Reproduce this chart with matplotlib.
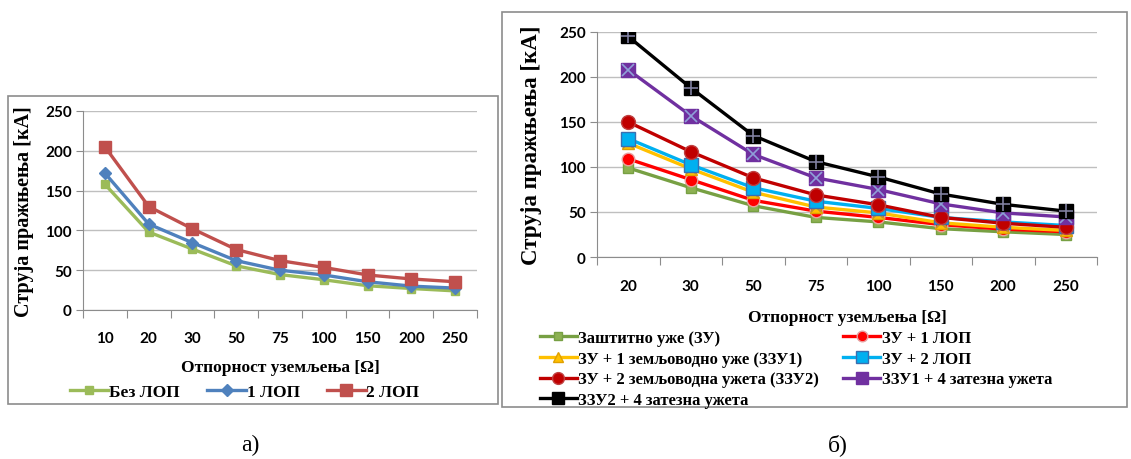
import matplotlib
matplotlib.use("Agg")
import matplotlib.pyplot as plt
from matplotlib.patches import Rectangle

W, H = 1131, 460

# ---- data: panel a) ----
cats_a = ["10", "20", "30", "50", "75", "100", "150", "200", "250"]
bez_lop = [158, 98, 76.5, 55.5, 44.5, 38, 30.5, 27, 24]
lop_1 = [172, 108, 84.5, 62, 50, 44, 35.5, 30, 27.5]
lop_2 = [205, 130, 102, 76, 62, 53.5, 44, 39, 35.5]

# ---- data: panel б) ----
cats_b = ["20", "30", "50", "75", "100", "150", "200", "250"]
zu = [99, 77, 57, 44, 39, 31.5, 28, 25]
zu_1lop = [109, 86, 63, 51, 44, 36, 31, 28]
zu_zzu1 = [126.5, 98, 72, 55.5, 49, 38, 33, 29.5]
zu_2lop = [131.5, 102.5, 77, 62, 54, 44, 39, 35]
zu_zzu2 = [150, 117, 88, 69, 58, 44, 37.5, 33]
zzu1_4 = [208, 157, 114, 88, 75, 59, 49, 44.5]
zzu2_4 = [245, 188, 135, 106, 89, 70, 58.5, 51]

names_a = ["Без ЛОП", "1 ЛОП", "2 ЛОП"]
names_b = ["Заштитно уже (ЗУ)", "ЗУ + 1 ЛОП",
           "ЗУ + 1 земљоводно уже (ЗЗУ1)", "ЗУ + 2 ЛОП",
           "ЗУ + 2 земљоводна ужета (ЗЗУ2)", "ЗЗУ1 + 4 затезна ужета",
           "ЗЗУ2 + 4 затезна ужета"]

xlabel = "Отпорност уземљења [Ω]"
ylabel = "Струја пражњења [кА]"

TICK_FONT = "Lato"
SERIF = "Liberation Serif"
GRID = "#BFBFBF"
AXC = "#8C8C8C"

fig = plt.figure(figsize=(W / 100, H / 100), dpi=100)


def px_axes(x0, y0, x1, y1):
    return fig.add_axes([x0 / W, 1 - y1 / H, (x1 - x0) / W, (y1 - y0) / H])


def style_axes(ax, cats, labelpad_pts):
    n = len(cats)
    ax.set_xlim(-0.5, n - 0.5)
    ax.set_ylim(0, 250)
    ax.set_yticks(range(0, 251, 50))
    ax.set_xticks([i - 0.5 for i in range(n + 1)])
    ax.set_xticklabels([])
    ax.set_xticks(range(n), minor=True)
    ax.set_xticklabels(cats, minor=True)
    ax.tick_params(axis="x", which="major", length=6, color=AXC, direction="out")
    ax.tick_params(axis="x", which="minor", length=0, pad=labelpad_pts)
    ax.tick_params(axis="y", length=5, color=AXC, pad=3)
    for lab in ax.get_xticklabels(minor=True) + ax.get_yticklabels():
        lab.set_fontfamily(TICK_FONT)
        lab.set_fontweight("bold")
        lab.set_fontsize(11)
    ax.grid(axis="y", color=GRID, linewidth=1)
    ax.set_axisbelow(True)
    for s in ["top", "right"]:
        ax.spines[s].set_visible(False)
    ax.spines["left"].set_color(AXC)
    ax.spines["bottom"].set_color(AXC)
    ax.set_facecolor("none")


# frames around each panel
fig.patches.append(Rectangle((8 / W, 1 - 405 / H), 490 / W, 308 / H,
                             transform=fig.transFigure, fill=False,
                             edgecolor="#8C8C8C", linewidth=1.2))
fig.patches.append(Rectangle((502 / W, 1 - 408 / H), 625 / W, 395 / H,
                             transform=fig.transFigure, fill=False,
                             edgecolor="#8C8C8C", linewidth=1.2))

# ---------- panel a) ----------
axa = px_axes(83, 112, 477, 311)
style_axes(axa, cats_a, 15)
xa = range(len(cats_a))
h1, = axa.plot(xa, bez_lop, color="#9BBB59", lw=2.4, marker="s", ms=6,
               mfc="#9BBB59", mec="#9BBB59", label=names_a[0])
h2, = axa.plot(xa, lop_1, color="#4F81BD", lw=2.4, marker="D", ms=6,
               mfc="#4F81BD", mec="#4F81BD", label=names_a[1])
h3, = axa.plot(xa, lop_2, color="#C0504D", lw=2.4, marker="s", ms=9,
               mfc="#C0504D", mec="#C0504D", label=names_a[2])
axa.set_xlabel(xlabel, fontfamily=SERIF, fontweight="bold", fontsize=12.5,
               labelpad=10)
axa.set_ylabel(ylabel, fontfamily=SERIF, fontweight="bold", fontsize=14.5,
               labelpad=8)
fig.legend(handles=[h1, h2, h3], loc="center left",
           bbox_to_anchor=(70 / W, 1 - 393 / H), ncol=3, frameon=False,
           prop={"family": SERIF, "weight": "bold", "size": 12.5},
           handlelength=2.2, handletextpad=0.05, columnspacing=1.6,
           borderaxespad=0, borderpad=0)

# ---------- panel б) ----------
axb = px_axes(597, 33, 1097, 258)
style_axes(axb, cats_b, 16)
xb = range(len(cats_b))
lw = 2.4
g, = axb.plot(xb, zu, color="#77A043", lw=lw, marker="s", ms=7,
              mfc="#8DB152", mec="#77A043", label=names_b[0])
r1, = axb.plot(xb, zu_1lop, color="#FF0000", lw=lw, marker="o", ms=9,
               mfc="#FF0000", mec="#E8A0A0", label=names_b[1])
y1, = axb.plot(xb, zu_zzu1, color="#FFC000", lw=lw, marker="^", ms=9,
               mfc="#FFC000", mec="#E0A000", label=names_b[2])
axb.plot(xb, zu_zzu1, ls="none", marker="x", ms=7, mec="#C09030", mew=1.2)
c2, = axb.plot(xb, zu_2lop, color="#00B0F0", lw=lw, marker="s", ms=10,
               mfc="#00B0F0", mec="#3A6FB0", mew=1, label=names_b[3])
r2, = axb.plot(xb, zu_zzu2, color="#C00000", lw=lw, marker="o", ms=10,
               mfc="#C00000", mec="#C04040", label=names_b[4])
p, = axb.plot(xb, zzu1_4, color="#7030A0", lw=lw, marker="s", ms=10,
              mfc="#7030A0", mec="#7030A0", label=names_b[5])
axb.plot(xb, zzu1_4, ls="none", marker="x", ms=8, mec="#8FA0D8", mew=1.2)
k, = axb.plot(xb, zzu2_4, color="black", lw=lw, marker="s", ms=10,
              mfc="black", mec="black", label=names_b[6])
axb.plot(xb, zzu2_4, ls="none", marker="+", ms=10, mec="#7F7F9F", mew=1.2)
axb.set_xlabel(xlabel, fontfamily=SERIF, fontweight="bold", fontsize=12.5,
               labelpad=11)
axb.set_ylabel(ylabel, fontfamily=SERIF, fontweight="bold", fontsize=16.5,
               labelpad=12)
# legend fills column by column; order handles so rows read left to right
fig.legend(handles=[g, y1, r2, k, r1, c2, p], loc="upper left",
           bbox_to_anchor=(540 / W, 1 - 331 / H), ncol=2, frameon=False,
           prop={"family": SERIF, "weight": "bold", "size": 12},
           handlelength=2.2, handletextpad=0.1, columnspacing=1.45,
           labelspacing=0.28, borderaxespad=0, borderpad=0,
           markerscale=0.85)

# panel captions
fig.text(250 / W, 1 - 445 / H, "а)", ha="center", va="center",
         fontfamily=SERIF, fontsize=17)
fig.text(838 / W, 1 - 445 / H, "б)", ha="center", va="center",
         fontfamily=SERIF, fontsize=17)

fig.savefig("out.png", dpi=100)
